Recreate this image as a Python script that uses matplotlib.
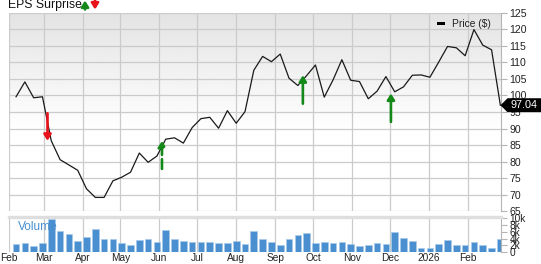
import matplotlib
matplotlib.use('Agg')
import matplotlib.pyplot as plt
import matplotlib.dates as mdates
from matplotlib.ticker import FuncFormatter
from matplotlib.patches import Polygon, Rectangle
from matplotlib.transforms import IdentityTransform
import numpy as np
import pandas as pd

plt.rcParams['font.family'] = ['Liberation Sans', 'DejaVu Sans']

# ---------------- data ----------------
start_week = '2025-02-07'
n_weeks = 56
price = [99.6, 104.1, 99.3, 99.6, 86.3, 80.6, 79.0, 77.4, 71.8, 69.2,
         69.2, 74.2, 75.3, 76.8, 82.6, 79.8, 81.7, 86.8, 87.2, 85.6,
         90.3, 93.0, 93.4, 90.1, 95.4, 91.6, 95.1, 107.6, 111.8, 110.2,
         112.5, 105.2, 103.0, 106.0, 109.2, 99.5, 104.7, 110.8, 104.6, 104.2,
         99.0, 101.3, 105.7, 101.1, 102.6, 106.1, 106.2, 105.5, 110.1, 114.8,
         114.4, 112.0, 119.9, 115.2, 113.8, 97.04]
volume = [2450, 2750, 1960, 2750, 9800, 6300, 5400, 3200, 4600, 6800,
          3900, 3800, 2750, 2200, 3600, 3900, 3000, 6500, 3900, 3300,
          3000, 3000, 3000, 2750, 2650, 3400, 2550, 6400, 3900, 3000,
          2200, 3800, 5000, 5600, 2800, 3000, 2800, 3000, 2450, 1900,
          2000, 2750, 2450, 6000, 4100, 3300, 1200, 1200, 2550, 3500,
          2050, 2050, 3100, 2000, 1300, 3800]
# EPS surprise events: date, arrow tail price, arrow tip price, direction
eps_dates = ['2025-03-04', '2025-06-03', '2025-09-23', '2025-12-02']
eps_tail = [94.6, 77.8, 97.5, 92.0]
eps_tip = [86.3, 86.3, 106.1, 100.6]
eps_kind = ['down', 'up_dashed', 'up', 'up']
price_ticks = list(range(65, 126, 5))
vol_ticks = [0, 2000, 4000, 6000, 8000, 10000]
last_label = '97.04'

dates = pd.date_range(start_week, periods=n_weeks, freq='7D')

# ---------------- figure ----------------
W, H = 541, 264
fig = plt.figure(figsize=(W / 100, H / 100), dpi=100)

def fx(px):
    return px / W

def fy(py):
    return 1 - py / H

L, R = 8.5, 501
ax = fig.add_axes([fx(L), fy(211.3), (R - L) / W, (211.3 - 12.7) / H])
axv = fig.add_axes([fx(L), fy(252.3), (R - L) / W, (252.3 - 217) / H], sharex=ax)

xmin, xmax = pd.Timestamp('2025-02-01'), pd.Timestamp('2026-02-27 12:00')
ax.set_xlim(xmin, xmax)
ax.set_ylim(65, 125)

# gradient background (gray at top fading to white)
fr = np.linspace(0, 1, 200)[:, None]
grad = np.clip(0.89 + (1 - 0.89) * fr / 0.6, 0, 1) * np.ones((1, 2))
ax.imshow(grad, cmap='gray', vmin=0, vmax=1, aspect='auto', origin='upper',
          extent=[mdates.date2num(xmin), mdates.date2num(xmax), 65, 125],
          zorder=0, interpolation='bilinear')

grid_c = '#cbcbcb'
ax.xaxis.set_major_locator(mdates.MonthLocator())
ax.set_yticks(price_ticks)
ax.grid(True, color=grid_c, lw=0.9, zorder=1)
ax.set_axisbelow(True)

ax.plot(dates, price, color='#1a1a1a', lw=0.9, zorder=3)

# EPS arrows
for d, t0, t1, k in zip(eps_dates, eps_tail, eps_tip, eps_kind):
    col = '#e8121a' if k == 'down' else '#14891a'
    ls = '--' if 'dashed' in k else '-'
    ax.annotate('', xy=(pd.Timestamp(d), t1), xytext=(pd.Timestamp(d), t0),
                arrowprops=dict(arrowstyle='-|>,head_width=0.22,head_length=0.35',
                                color=col, lw=1.9, linestyle=ls,
                                shrinkA=0, shrinkB=0), zorder=4)

for s in ['left', 'top', 'bottom']:
    ax.spines[s].set_visible(False)
ax.spines['right'].set_color('#b5b5b5')
ax.spines['right'].set_linewidth(0.8)
ax.yaxis.tick_right()
ax.tick_params(axis='y', length=4, width=0.8, color='#b5b5b5', labelsize=7.6,
               pad=2, labelcolor='#222222')
ax.tick_params(axis='x', length=0, labelbottom=False)

# volume panel
axv.bar(dates, volume, width=5.3, color='#4a8fcf', edgecolor='#a8cbec',
        linewidth=0.5, zorder=2)
axv.set_ylim(0, 10380)
axv.set_yticks(vol_ticks)
axv.yaxis.set_major_formatter(FuncFormatter(lambda v, p: '0' if v == 0 else f'{int(v / 1000)}k'))
axv.yaxis.tick_right()
axv.tick_params(axis='y', length=4, width=0.8, color='#b5b5b5', labelsize=7.3,
                pad=2, labelcolor='#222222')
axv.grid(True, axis='x', color=grid_c, lw=0.9, zorder=1)
axv.set_axisbelow(True)
for s in ['left', 'bottom']:
    axv.spines[s].set_visible(False)
axv.spines['right'].set_color('#b5b5b5')
axv.spines['right'].set_linewidth(0.8)
axv.spines['top'].set_color('#dedede')
axv.spines['top'].set_linewidth(2.4)
axv.xaxis.set_major_locator(mdates.MonthLocator())
axv.xaxis.set_major_formatter(FuncFormatter(
    lambda v, p: mdates.num2date(v).strftime('%Y') if mdates.num2date(v).month == 1
    else mdates.num2date(v).strftime('%b')))
axv.tick_params(axis='x', length=0, labelsize=7.3, pad=0.6, labelcolor='#222222')
axv.text(0.02, 0.72, 'Volume', transform=axv.transAxes, color='#4a8fcf',
         fontsize=8.6, va='center', ha='left', zorder=5)

# legend
fig.add_artist(Rectangle((437.3, H - 25.3), 7.7, 3.6, transform=IdentityTransform(),
                         facecolor='black', edgecolor='none'))
fig.text(fx(452.3), fy(23.8), 'Price ($)', fontsize=7.4, va='center', ha='left',
         color='#222222')

# title
fig.text(fx(8), fy(5), 'EPS Surprise', fontsize=8.8, va='center', ha='left',
         color='#111111')
ax.annotate('', xy=(85, H - 0.5), xytext=(85, H - 9.5), xycoords='figure pixels',
            textcoords='figure pixels',
            arrowprops=dict(arrowstyle='-|>,head_width=0.22,head_length=0.35',
                            color='#14891a', lw=1.9, shrinkA=0, shrinkB=0))
ax.annotate('', xy=(95, H - 9.5), xytext=(95, H - 0.5), xycoords='figure pixels',
            textcoords='figure pixels',
            arrowprops=dict(arrowstyle='-|>,head_width=0.22,head_length=0.35',
                            color='#e8121a', lw=1.9, shrinkA=0, shrinkB=0))

# last price label
yc = ax.transData.transform((mdates.date2num(dates[-1]), price[-1]))[1]
poly = Polygon([(500.5, yc), (507.5, yc + 7), (541, yc + 7), (541, yc - 7), (507.5, yc - 7)],
               closed=True, transform=IdentityTransform(), facecolor='black',
               edgecolor='none', zorder=10)
fig.add_artist(poly)
fig.text(fx(524), yc / H, last_label, fontsize=7.8, color='white', va='center',
         ha='center', zorder=11)

fig.savefig('out.png', dpi=100)
